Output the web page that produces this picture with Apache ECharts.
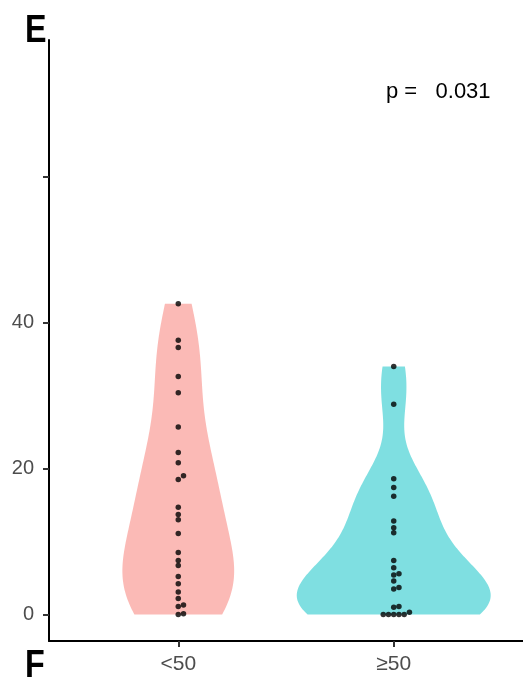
<!DOCTYPE html>
<html>
<head>
<meta charset="utf-8">
<script src="https://cdn.jsdelivr.net/npm/echarts@6/dist/echarts.min.js"></script>
<style>
html,body{margin:0;padding:0;background:#fff;}
#chart{width:523px;height:677px;}
</style>
</head>
<body>
<div id="chart"></div>
<script>
// ---- data ----
const categories = ['<50', '≥50'];
const valuesLow = [42.6, 37.6, 36.6, 32.6, 30.4, 25.7, 22.2, 20.8, 19.0, 18.5, 14.7, 13.7, 13.0, 11.1, 8.5, 7.4, 6.7, 5.2, 4.2, 3.1, 2.2, 1.3, 1.1, 0.1, 0];
const valuesHigh = [34.0, 28.8, 18.6, 17.4, 16.2, 12.8, 11.9, 11.2, 7.4, 6.4, 5.6, 5.4, 4.6, 3.7, 3.5, 1.1, 1.0, 0.3, 0, 0, 0, 0, 0];
const yTickValues = [0, 20, 40, 60];
const yLabelValues = [0, 20, 40];
const panelLetter = 'E';
const nextPanelLetter = 'F';
const pLabel = 'p =   0.031';

const groups = [valuesLow, valuesHigh];
const fillColors = ['rgba(248,118,109,0.5)', 'rgba(0,191,196,0.5)'];

// ---- kernel density (gaussian, bw.nrd0, trimmed to data range) ----
function quantile(sorted, p) {
  const h = (sorted.length - 1) * p;
  const lo = Math.floor(h), hi = Math.ceil(h);
  return sorted[lo] + (h - lo) * (sorted[hi] - sorted[lo]);
}
function bwNrd0(x) {
  const n = x.length;
  const mean = x.reduce((a, b) => a + b, 0) / n;
  const sd = Math.sqrt(x.reduce((a, b) => a + (b - mean) * (b - mean), 0) / (n - 1));
  const s = x.slice().sort((a, b) => a - b);
  const iqr = quantile(s, 0.75) - quantile(s, 0.25);
  let lo = Math.min(sd, iqr / 1.34);
  if (!(lo > 0)) lo = sd || Math.abs(s[0]) || 1;
  return 0.9 * lo * Math.pow(n, -0.2);
}
function kde(x, npts) {
  const bw = bwNrd0(x);
  const mn = Math.min(...x), mx = Math.max(...x);
  const out = [];
  for (let i = 0; i < npts; i++) {
    const y = mn + (mx - mn) * i / (npts - 1);
    let d = 0;
    for (const xi of x) {
      const z = (y - xi) / bw;
      d += Math.exp(-0.5 * z * z);
    }
    d /= (x.length * bw * Math.sqrt(2 * Math.PI));
    out.push([y, d]);
  }
  return out;
}
const densities = groups.map(g => kde(g, 256));
const maxDens = Math.max(...densities.map(ds => Math.max(...ds.map(p => p[1]))));
const halfWidth = 0.45;

// ---- simple beeswarm offsets for dots ----
const pxPerY = 7.3, pxPerX = 215, dotPx = 5.5;
function swarm(vals, center) {
  const sorted = vals.slice().sort((a, b) => a - b);
  const placed = [];
  const out = [];
  for (const v of sorted) {
    const yp = v * pxPerY;
    let k = 0, off = 0;
    while (true) {
      off = (k === 0) ? 0 : (k % 2 === 1 ? 1 : -1) * Math.ceil(k / 2) * dotPx * 0.95;
      const clash = placed.some(p => Math.hypot(p[0] - off, p[1] - yp) < dotPx * 0.9);
      if (!clash) break;
      k++;
    }
    placed.push([off, yp]);
    out.push([center + off / pxPerX, v]);
  }
  return out;
}

const chart = echarts.init(document.getElementById('chart'), null, {renderer: 'canvas'});

const violinSeries = {
  type: 'custom',
  silent: true,
  z: 1,
  data: categories.map((c, i) => [i + 1, i]),
  renderItem: function (params, api) {
    const gi = api.value(1);
    const center = api.value(0);
    const ds = densities[gi];
    const pts = [];
    for (const [y, d] of ds) pts.push(api.coord([center + halfWidth * d / maxDens, y]));
    for (let i = ds.length - 1; i >= 0; i--) {
      const [y, d] = ds[i];
      pts.push(api.coord([center - halfWidth * d / maxDens, y]));
    }
    return {
      type: 'polygon',
      shape: {points: pts},
      style: {fill: fillColors[gi], stroke: null}
    };
  },
  encode: {x: 0, y: 1}
};

const dotSeries = groups.map((g, i) => ({
  type: 'scatter',
  z: 3,
  silent: true,
  symbol: 'circle',
  symbolSize: 5.5,
  itemStyle: {color: '#000'},
  data: swarm(g, i + 1)
}));

const option = {
  animation: false,
  backgroundColor: '#fff',
  grid: {left: 49, right: 0, top: 40, bottom: 36, containLabel: false},
  xAxis: {
    type: 'value',
    min: 0.4,
    max: 2.6,
    splitLine: {show: false},
    axisLine: {show: true, onZero: false, lineStyle: {color: '#000', width: 2}},
    axisTick: {show: true, length: 6, customValues: [1, 2], lineStyle: {color: '#333', width: 2}},
    axisLabel: {
      customValues: [1, 2],
      margin: 13,
      color: '#4D4D4D',
      fontSize: 21,
      fontFamily: 'Liberation Sans, Arial, sans-serif',
      formatter: v => categories[Math.round(v) - 1]
    }
  },
  yAxis: {
    type: 'value',
    min: -3.63,
    max: 78.73,
    splitLine: {show: false},
    axisLine: {show: true, onZero: false, lineStyle: {color: '#000', width: 2}},
    axisTick: {show: true, length: 6, customValues: yTickValues, lineStyle: {color: '#333', width: 2}},
    axisLabel: {
      customValues: yLabelValues,
      margin: 15,
      color: '#4D4D4D',
      fontSize: 20,
      fontFamily: 'Liberation Sans, Arial, sans-serif'
    }
  },
  graphic: [
    {type: 'text', left: 25, top: 13, z: 10, scaleX: 0.85,
     style: {text: panelLetter, font: 'bold 38px "Liberation Sans", Arial, sans-serif', fill: '#000'}},
    {type: 'text', left: 25, top: 648, z: 10, scaleX: 0.85,
     style: {text: nextPanelLetter, font: 'bold 38px "Liberation Sans", Arial, sans-serif', fill: '#000'}},
    {type: 'text', left: 386, top: 81, z: 10,
     style: {text: pLabel, font: '22px "Liberation Sans", Arial, sans-serif', fill: '#000'}}
  ],
  series: [violinSeries].concat(dotSeries)
};
chart.setOption(option);
</script>
</body>
</html>
